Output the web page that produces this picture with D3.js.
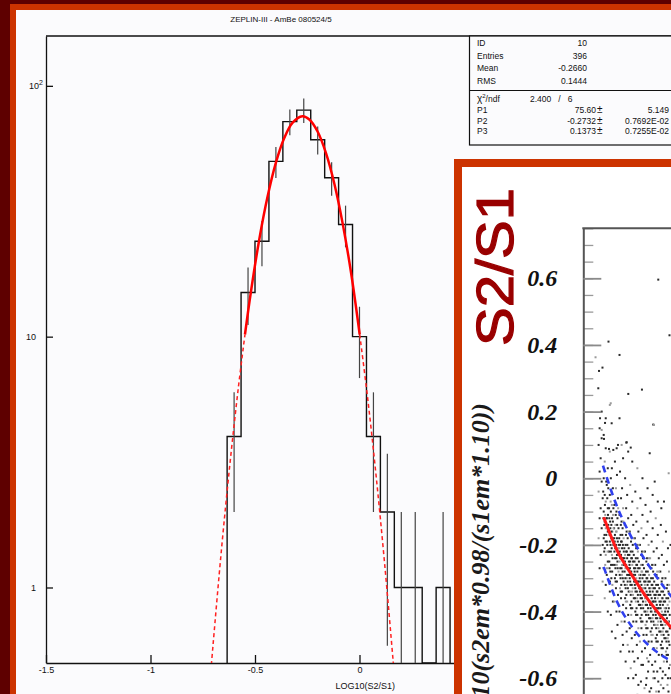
<!DOCTYPE html>
<html>
<head>
<meta charset="utf-8">
<script src="https://cdn.jsdelivr.net/npm/d3@7"></script>
<style>
  body { margin: 0; background: #5e0000; }
  svg { display: block; }
</style>
</head>
<body>
<svg id="chart" width="671" height="694"></svg>
<script>
// ---- histogram: LOG10(S2/S1) ----
const binCenters = [-0.6, -0.5333, -0.4667, -0.4, -0.3333, -0.2667, -0.2, -0.1333, -0.0667, 0, 0.0667, 0.1333, 0.2, 0.2667, 0.3333, 0.4];
const binCounts = [4, 15, 24, 50, 72, 80, 61, 43, 28, 10, 4, 2, 1, 1, 0, 1];
const binWidth = 0.0667;

// fitted gaussian
const fitX = [-0.72, -0.70, -0.66, -0.62, -0.58, -0.548, -0.52, -0.48, -0.44, -0.40, -0.36, -0.32, -0.2732, -0.24, -0.20, -0.16, -0.12, -0.08, -0.04, 0.001, 0.04, 0.08, 0.12, 0.16, 0.18];
const fitY = [0.38, 0.60, 1.43, 3.11, 6.23, 10.2, 15.0, 24.3, 36.1, 49.4, 61.9, 71.3, 75.6, 73.4, 65.6, 53.8, 40.6, 28.1, 17.9, 10.2, 5.60, 2.76, 1.25, 0.52, 0.33];
const fitRange = [-0.548, 0.001];

const xMajor = [-1.5, -1, -0.5, 0, 0.5];
const xMajorLabels = ["-1.5", "-1", "-0.5", "0", "0.5"];
const xMinor = d3.range(-15, 16).map(d => d / 10);
const yMajor = [1, 10, 100];
const yMajorLabels = ["1", "10", "10"];
const yMinor = [0.5, 0.6, 0.7, 0.8, 0.9, 2, 3, 4, 5, 6, 7, 8, 9, 20, 30, 40, 50, 60, 70, 80, 90];

const statRows1 = [["ID", "10"], ["Entries", "396"], ["Mean", "-0.2660"], ["RMS", "0.1444"]];
const statRows2 = [["P1", "75.60", "5.149"], ["P2", "-0.2732", "0.7692E-02"], ["P3", "0.1373", "0.7255E-02"]];

// ---- S2/S1 band plot ----
const bandTicks = [0.6, 0.4, 0.2, 0, -0.2, -0.4, -0.6];
const bandTickLabels = ["0.6", "0.4", "0.2", "0", "-0.2", "-0.4", "-0.6"];
const bandMinor = d3.range(-15, 16).map(d => d / 20);
const meanLine = [[2.0, -0.117], [3.24, -0.212], [4.87, -0.296], [6.51, -0.371], [8.53, -0.445], [9.2, -0.465]];
const upperLine = [[1.93, 0.038], [3.08, -0.067], [4.55, -0.167], [6.51, -0.266], [8.53, -0.351], [9.2, -0.375]];
const lowerLine = [[2.0, -0.266], [3.24, -0.366], [4.87, -0.45], [6.51, -0.504], [8.14, -0.54], [9.2, -0.556]];
const bandPoints = [
  [7.35,0.596],[8.45,0.429],[2.47,0.41],[3.55,0.37],[1.2,0.363],[1.88,0.332],[1.54,0.322],[5.75,0.266],[4.41,0.253],[2.69,0.225],
  [6.86,0.161],[3.55,0.18],[2.78,0.165],[2.13,0.166],[1.8,0.145],[2.03,0.118],[2.52,0.088],[2.94,0.085],[3.27,0.09],[3.76,0.1],
  [4.25,0.108],[4.65,0.092],[1.47,0.27],[1.64,0.18],[6.93,0.16],[4.22,0.107],[7.91,-0.07],[7.0,-0.01],[6.51,0.075],[8.37,0.015],
  [1.5,0.10],[1.7,0.06],[1.6,0.02],[1.8,-0.01],[1.5,-0.04],[1.9,-0.06],[1.7,-0.09],[1.6,-0.12],[1.8,-0.15],[1.5,-0.18],
  [1.9,-0.2],[1.7,-0.23],[1.6,-0.27],[1.8,0.12],[1.9,-0.31],[1.6,0.15],[1.8,0.2],
  [2.0,0.13],[2.2,0.09],[2.1,0.05],[2.4,0.03],[2.0,0.0],[2.3,-0.02],[2.1,-0.05],[2.2,-0.07],[2.4,-0.09],[2.0,-0.1],
  [2.3,-0.12],[2.1,-0.13],[2.2,-0.15],[2.4,-0.16],[2.0,-0.18],[2.3,-0.19],[2.1,-0.21],[2.2,-0.23],[2.4,-0.25],[2.0,-0.27],
  [2.3,-0.29],[2.2,-0.32],[2.1,-0.36],[2.4,-0.4],[2.2,0.18],[2.35,-0.06],[2.05,-0.14],
  [2.6,0.08],[2.8,0.03],[2.7,0.0],[2.9,-0.03],[2.6,-0.05],[2.8,-0.08],[2.7,-0.1],[2.55,-0.12],[2.9,-0.13],[2.65,-0.15],
  [2.85,-0.16],[2.75,-0.18],[2.6,-0.19],[2.95,-0.2],[2.7,-0.22],[2.8,-0.23],[2.55,-0.25],[2.9,-0.26],[2.65,-0.28],[2.75,-0.3],
  [2.85,-0.32],[2.6,-0.34],[2.9,-0.37],[2.7,-0.41],[2.8,-0.46],[2.6,0.22],[2.95,-0.09],[2.75,-0.14],
  [3.1,0.05],[3.3,0.01],[3.2,-0.03],[3.4,-0.06],[3.05,-0.08],[3.25,-0.1],[3.35,-0.12],[3.15,-0.14],[3.45,-0.15],[3.1,-0.17],
  [3.3,-0.18],[3.2,-0.2],[3.4,-0.21],[3.05,-0.22],[3.25,-0.24],[3.35,-0.25],[3.15,-0.27],[3.45,-0.28],[3.1,-0.3],[3.3,-0.31],
  [3.2,-0.33],[3.4,-0.35],[3.05,-0.37],[3.25,-0.4],[3.35,-0.44],[3.15,-0.48],[3.4,0.1],[3.2,-0.16],[3.3,-0.23],
  [3.6,0.02],[3.8,-0.03],[3.7,-0.06],[3.9,-0.09],[3.55,-0.11],[3.75,-0.13],[3.85,-0.15],[3.65,-0.17],[3.95,-0.18],[3.6,-0.2],
  [3.8,-0.21],[3.7,-0.23],[3.9,-0.24],[3.55,-0.25],[3.75,-0.27],[3.85,-0.28],[3.65,-0.3],[3.95,-0.31],[3.6,-0.33],[3.8,-0.34],
  [3.7,-0.36],[3.9,-0.38],[3.55,-0.4],[3.75,-0.43],[3.85,-0.47],[3.65,-0.52],[3.9,0.06],[3.7,-0.19],[3.8,-0.26],
  [4.1,0.0],[4.3,-0.05],[4.2,-0.09],[4.4,-0.12],[4.05,-0.14],[4.25,-0.16],[4.35,-0.18],[4.15,-0.2],[4.45,-0.21],[4.1,-0.23],
  [4.3,-0.24],[4.2,-0.26],[4.4,-0.27],[4.05,-0.28],[4.25,-0.3],[4.35,-0.31],[4.15,-0.33],[4.45,-0.34],[4.1,-0.36],[4.3,-0.37],
  [4.2,-0.39],[4.4,-0.41],[4.05,-0.43],[4.25,-0.46],[4.35,-0.5],[4.15,-0.55],[4.4,0.08],[4.2,-0.22],[4.3,-0.29],
  [4.6,-0.02],[4.8,-0.07],[4.7,-0.11],[4.9,-0.14],[4.55,-0.16],[4.75,-0.18],[4.85,-0.2],[4.65,-0.22],[4.95,-0.23],[4.6,-0.25],
  [4.8,-0.26],[4.7,-0.28],[4.9,-0.29],[4.55,-0.3],[4.75,-0.32],[4.85,-0.33],[4.65,-0.35],[4.95,-0.36],[4.6,-0.38],[4.8,-0.39],
  [4.7,-0.41],[4.9,-0.43],[4.55,-0.45],[4.75,-0.48],[4.85,-0.52],[4.65,-0.57],[4.8,0.05],[4.7,-0.24],[4.6,-0.31],
  [5.1,-0.04],[5.3,-0.09],[5.2,-0.13],[5.4,-0.16],[5.05,-0.18],[5.25,-0.2],[5.35,-0.22],[5.15,-0.24],[5.45,-0.25],[5.1,-0.27],
  [5.3,-0.28],[5.2,-0.3],[5.4,-0.31],[5.05,-0.32],[5.25,-0.34],[5.35,-0.35],[5.15,-0.37],[5.45,-0.38],[5.1,-0.4],[5.3,-0.41],
  [5.2,-0.43],[5.4,-0.45],[5.05,-0.47],[5.25,-0.5],[5.35,-0.54],[5.15,-0.59],[5.3,0.03],[5.2,-0.26],[5.1,-0.33],
  [5.6,-0.06],[5.8,-0.11],[5.7,-0.15],[5.9,-0.18],[5.55,-0.2],[5.75,-0.22],[5.85,-0.24],[5.65,-0.26],[5.95,-0.27],[5.6,-0.29],
  [5.8,-0.3],[5.7,-0.32],[5.9,-0.33],[5.55,-0.34],[5.75,-0.36],[5.85,-0.37],[5.65,-0.39],[5.95,-0.4],[5.6,-0.42],[5.8,-0.43],
  [5.7,-0.45],[5.9,-0.47],[5.55,-0.49],[5.75,-0.52],[5.85,-0.56],[5.65,-0.61],[5.8,0.0],[5.7,-0.28],[5.6,-0.35],
  [6.1,-0.08],[6.3,-0.13],[6.2,-0.17],[6.4,-0.2],[6.05,-0.22],[6.25,-0.24],[6.35,-0.26],[6.15,-0.28],[6.45,-0.29],[6.1,-0.31],
  [6.3,-0.32],[6.2,-0.34],[6.4,-0.35],[6.05,-0.36],[6.25,-0.38],[6.35,-0.39],[6.15,-0.41],[6.45,-0.42],[6.1,-0.44],[6.3,-0.45],
  [6.2,-0.47],[6.4,-0.49],[6.05,-0.51],[6.25,-0.54],[6.35,-0.58],[6.15,-0.62],[6.3,-0.03],[6.2,-0.3],[6.1,-0.37],
  [6.6,-0.1],[6.8,-0.15],[6.7,-0.19],[6.9,-0.22],[6.55,-0.24],[6.75,-0.26],[6.85,-0.28],[6.65,-0.3],[6.95,-0.31],[6.6,-0.33],
  [6.8,-0.34],[6.7,-0.36],[6.9,-0.37],[6.55,-0.38],[6.75,-0.4],[6.85,-0.41],[6.65,-0.43],[6.95,-0.44],[6.6,-0.46],[6.8,-0.47],
  [6.7,-0.49],[6.9,-0.51],[6.55,-0.53],[6.75,-0.56],[6.85,-0.6],[6.65,-0.63],[6.8,-0.05],[6.7,-0.32],[6.6,-0.39],
  [7.1,-0.12],[7.3,-0.17],[7.2,-0.21],[7.4,-0.24],[7.05,-0.26],[7.25,-0.28],[7.35,-0.3],[7.15,-0.32],[7.45,-0.33],[7.1,-0.35],
  [7.3,-0.36],[7.2,-0.38],[7.4,-0.39],[7.05,-0.4],[7.25,-0.42],[7.35,-0.43],[7.15,-0.45],[7.45,-0.46],[7.1,-0.48],[7.3,-0.49],
  [7.2,-0.51],[7.4,-0.53],[7.05,-0.55],[7.25,-0.58],[7.35,-0.61],[7.15,-0.64],[7.3,-0.07],[7.2,-0.34],[7.1,-0.41],
  [7.6,-0.14],[7.8,-0.19],[7.7,-0.23],[7.9,-0.26],[7.55,-0.28],[7.75,-0.3],[7.85,-0.32],[7.65,-0.34],[7.95,-0.35],[7.6,-0.37],
  [7.8,-0.38],[7.7,-0.4],[7.9,-0.41],[7.55,-0.42],[7.75,-0.44],[7.85,-0.45],[7.65,-0.47],[7.95,-0.48],[7.6,-0.5],[7.8,-0.51],
  [7.7,-0.53],[7.9,-0.55],[7.55,-0.57],[7.75,-0.6],[7.85,-0.63],[7.65,-0.09],[7.7,-0.36],[7.6,-0.43],
  [8.1,-0.16],[8.3,-0.21],[8.2,-0.25],[8.4,-0.28],[8.05,-0.3],[8.25,-0.32],[8.35,-0.34],[8.15,-0.36],[8.45,-0.37],[8.1,-0.39],
  [8.3,-0.4],[8.2,-0.42],[8.4,-0.43],[8.05,-0.44],[8.25,-0.46],[8.35,-0.47],[8.15,-0.49],[8.45,-0.5],[8.1,-0.52],[8.3,-0.53],
  [8.2,-0.55],[8.4,-0.57],[8.05,-0.59],[8.25,-0.62],[8.35,-0.64],[8.55,-0.2],[8.5,-0.45],[8.55,-0.6],
  [2.15,-0.11],[2.25,-0.17],[2.45,-0.14],[2.05,-0.22],[2.35,-0.2],[2.15,-0.26],[2.45,-0.03],[1.95,-0.04],[2.25,-0.01],
  [2.58,-0.17],[2.68,-0.07],[2.78,-0.21],[2.88,-0.18],[2.52,-0.22],[2.72,-0.26],[2.92,-0.11],[2.62,-0.31],[2.82,-0.12],
  [3.08,-0.19],[3.18,-0.11],[3.28,-0.26],[3.38,-0.19],[3.48,-0.23],[3.02,-0.15],[3.22,-0.29],[3.42,-0.09],[3.12,-0.24],[3.32,-0.14],
  [3.58,-0.22],[3.68,-0.14],[3.78,-0.29],[3.88,-0.2],[3.98,-0.26],[3.52,-0.18],[3.72,-0.32],[3.92,-0.13],[3.62,-0.27],[3.82,-0.17],
  [4.08,-0.25],[4.18,-0.17],[4.28,-0.32],[4.38,-0.23],[4.48,-0.29],[4.02,-0.21],[4.22,-0.35],[4.42,-0.16],[4.12,-0.3],[4.32,-0.2],
  [4.58,-0.27],[4.68,-0.19],[4.78,-0.34],[4.88,-0.25],[4.98,-0.31],[4.52,-0.23],[4.72,-0.37],[4.92,-0.18],[4.62,-0.32],[4.82,-0.22],
  [5.08,-0.29],[5.18,-0.21],[5.28,-0.36],[5.38,-0.27],[5.48,-0.33],[5.02,-0.25],[5.22,-0.39],[5.42,-0.2],[5.12,-0.34],[5.32,-0.24],
  [5.58,-0.31],[5.68,-0.23],[5.78,-0.38],[5.88,-0.29],[5.98,-0.35],[5.52,-0.27],[5.72,-0.41],[5.92,-0.22],[5.62,-0.36],[5.82,-0.26],
  [6.08,-0.33],[6.18,-0.25],[6.28,-0.4],[6.38,-0.31],[6.48,-0.37],[6.02,-0.29],[6.22,-0.43],[6.42,-0.24],[6.12,-0.38],[6.32,-0.28],
  [6.58,-0.35],[6.68,-0.27],[6.78,-0.42],[6.88,-0.33],[6.98,-0.39],[6.52,-0.31],[6.72,-0.45],[6.92,-0.26],[6.62,-0.4],[6.82,-0.3],
  [7.08,-0.37],[7.18,-0.29],[7.28,-0.44],[7.38,-0.35],[7.48,-0.41],[7.02,-0.33],[7.22,-0.47],[7.42,-0.28],[7.12,-0.42],[7.32,-0.32],
  [7.58,-0.39],[7.68,-0.31],[7.78,-0.46],[7.88,-0.37],[7.98,-0.43],[7.52,-0.35],[7.72,-0.49],[7.92,-0.3],[7.62,-0.44],[7.82,-0.34],
  [8.08,-0.41],[8.18,-0.33],[8.28,-0.48],[8.38,-0.39],[8.48,-0.45],[8.02,-0.37],[8.22,-0.51],[8.42,-0.32],[8.12,-0.46],[8.32,-0.36],
  [6.2,-0.6],[6.9,-0.58],[7.6,-0.62],[8.3,-0.6],[5.4,-0.62],[4.9,-0.6],[7.2,-0.66],[8.0,-0.66],[6.5,-0.64],[5.9,-0.66],
  [2.12,-0.08],[2.28,-0.12],[2.38,-0.22],[2.08,-0.17],[2.42,-0.11],[1.98,-0.12],[2.18,-0.19],[2.32,-0.27],
  [2.63,-0.13],[2.77,-0.16],[2.87,-0.24],[2.53,-0.09],[2.97,-0.15],[2.67,-0.2],[2.83,-0.28],[2.57,-0.27],
  [3.13,-0.21],[3.27,-0.16],[3.37,-0.27],[3.03,-0.18],[3.47,-0.2],[3.17,-0.31],[3.33,-0.21],[3.07,-0.26],
  [3.63,-0.24],[3.77,-0.19],[3.87,-0.3],[3.53,-0.21],[3.97,-0.22],[3.67,-0.34],[3.83,-0.24],[3.57,-0.29],
  [4.13,-0.27],[4.27,-0.22],[4.37,-0.33],[4.03,-0.24],[4.47,-0.25],[4.17,-0.37],[4.33,-0.27],[4.07,-0.32],
  [4.63,-0.29],[4.77,-0.24],[4.87,-0.35],[4.53,-0.26],[4.97,-0.27],[4.67,-0.39],[4.83,-0.29],[4.57,-0.34],
  [5.13,-0.31],[5.27,-0.26],[5.37,-0.37],[5.03,-0.28],[5.47,-0.29],[5.17,-0.41],[5.33,-0.31],[5.07,-0.36],
  [5.63,-0.33],[5.77,-0.28],[5.87,-0.39],[5.53,-0.3],[5.97,-0.31],[5.67,-0.43],[5.83,-0.33],[5.57,-0.38],
  [6.13,-0.35],[6.27,-0.3],[6.37,-0.41],[6.03,-0.32],[6.47,-0.33],[6.17,-0.45],[6.33,-0.35],[6.07,-0.4],
  [6.63,-0.37],[6.77,-0.32],[6.87,-0.43],[6.53,-0.34],[6.97,-0.35],[6.67,-0.47],[6.83,-0.37],[6.57,-0.42],
  [7.13,-0.39],[7.27,-0.34],[7.37,-0.45],[7.03,-0.36],[7.47,-0.37],[7.17,-0.49],[7.33,-0.39],[7.07,-0.44],
  [7.63,-0.41],[7.77,-0.36],[7.87,-0.47],[7.53,-0.38],[7.97,-0.39],[7.67,-0.51],[7.83,-0.41],[7.57,-0.46],
  [8.13,-0.43],[8.27,-0.38],[8.37,-0.49],[8.03,-0.4],[8.47,-0.41],[8.17,-0.53],[8.33,-0.43],[8.07,-0.48],
  [6.4,-0.55],[7.0,-0.6],[7.8,-0.58],[8.5,-0.56],[5.7,-0.56],[5.0,-0.55],[4.5,-0.52],[3.9,-0.5],[8.4,-0.66],[7.4,-0.64],
  [6.8,-0.66],[5.3,-0.65],[4.4,-0.6],[6.0,-0.63]
];

const svg = d3.select("#chart");
const sans = "'Liberation Sans', Arial, sans-serif";
const serif = "'Liberation Serif', 'Times New Roman', serif";

// outer frame: dark red, orange, light page
svg.append("rect").attr("width", 671).attr("height", 694).attr("fill", "#5e0000");
svg.append("rect").attr("x", 10).attr("y", 4).attr("width", 661).attr("height", 690).attr("fill", "#cc3300");
svg.append("rect").attr("x", 16).attr("y", 10).attr("width", 655).attr("height", 684).attr("fill", "#fbfbfd");

// ---------- histogram ----------
const x = d3.scaleLinear().domain([-1.5, 1.5]).range([46, 673]);
const y = d3.scaleLog().domain([0.5, 158]).range([663, 36]);
const yc = v => y(Math.max(v, 0.5));

svg.append("clipPath").attr("id", "histClip")
  .append("rect").attr("x", 46).attr("y", 36).attr("width", 627).attr("height", 627);

svg.append("text")
  .attr("x", 281).attr("y", 22)
  .attr("text-anchor", "middle")
  .style("font-family", sans).style("font-size", "8px").attr("fill", "#111")
  .text("ZEPLIN-III - AmBe 080524/5");

// top frame line
svg.append("line").attr("x1", 46).attr("x2", 671).attr("y1", 36).attr("y2", 36)
  .attr("stroke", "#111").attr("stroke-width", 1.3);

const gx = svg.append("g").attr("transform", "translate(0,663)");
gx.call(d3.axisBottom(x).tickValues(xMinor).tickSizeInner(-4).tickSizeOuter(0).tickFormat(""));
gx.call(d3.axisBottom(x).tickValues(xMajor).tickSizeInner(-8).tickSizeOuter(0).tickPadding(4)
  .tickFormat((d, i) => xMajorLabels[i]));
gx.selectAll("path,line").attr("stroke", "#111").attr("stroke-width", 1.3);
gx.selectAll("text").style("font-family", sans).style("font-size", "9px").attr("fill", "#111");

const gy = svg.append("g").attr("transform", "translate(46,0)");
gy.call(d3.axisLeft(y).tickValues(yMinor).tickSizeInner(-4).tickSizeOuter(0).tickFormat(""));
gy.call(d3.axisLeft(y).tickValues(yMajor).tickSizeInner(-7).tickSizeOuter(0).tickPadding(10)
  .tickFormat((d, i) => yMajorLabels[i]));
gy.selectAll("path,line").attr("stroke", "#111").attr("stroke-width", 1.3);
gy.selectAll("text").style("font-family", sans).style("font-size", "9px").attr("fill", "#111");
gy.selectAll(".tick").filter(d => d === 100).select("text").attr("x", -3)
  .append("tspan").attr("dy", "-4").style("font-size", "7px").text("2");

svg.append("text").attr("x", 395).attr("y", 689).attr("text-anchor", "end")
  .style("font-family", sans).style("font-size", "9px").attr("fill", "#111")
  .text("LOG10(S2/S1)");

const hist = svg.append("g").attr("clip-path", "url(#histClip)");

// step outline
const stepPts = [];
binCenters.forEach((c, i) => {
  const lo = c - binWidth / 2, hi = c + binWidth / 2;
  if (i === 0) stepPts.push([lo, 0]);
  stepPts.push([lo, binCounts[i]], [hi, binCounts[i]]);
});
stepPts.push([binCenters[binCenters.length - 1] + binWidth / 2, 0]);

hist.append("path")
  .datum(stepPts)
  .attr("d", d3.line().x(d => x(d[0])).y(d => yc(d[1])))
  .attr("fill", "none").attr("stroke", "#111").attr("stroke-width", 1.4);

// sqrt(N) error bars
hist.selectAll(".err")
  .data(binCenters.map((c, i) => [c, binCounts[i]]).filter(d => d[1] > 0))
  .enter().append("line")
  .attr("class", "err")
  .attr("x1", d => x(d[0])).attr("x2", d => x(d[0]))
  .attr("y1", d => yc(d[1] - Math.sqrt(d[1])))
  .attr("y2", d => yc(d[1] + Math.sqrt(d[1])))
  .attr("stroke", "#444").attr("stroke-width", 1.2);

// fit curve: solid inside fit range, dashed outside
const fitPts = fitX.map((v, i) => [v, fitY[i]]);
const fitLine = d3.line().x(d => x(d[0])).y(d => y(d[1])).curve(d3.curveCatmullRom);
const leftPart = fitPts.filter(d => d[0] <= fitRange[0]);
const midPart = fitPts.filter(d => d[0] >= fitRange[0] && d[0] <= fitRange[1]);
const rightPart = fitPts.filter(d => d[0] >= fitRange[1]);
[leftPart, rightPart].forEach(part => {
  hist.append("path").datum(part).attr("d", fitLine)
    .attr("fill", "none").attr("stroke", "#ff2020").attr("stroke-width", 1.5)
    .attr("stroke-dasharray", "4,3");
});
hist.append("path").datum(midPart).attr("d", fitLine)
  .attr("fill", "none").attr("stroke", "#ff0000").attr("stroke-width", 2.5);

// statistics box
const stats = svg.append("g").style("font-family", sans).style("font-size", "8.5px").attr("fill", "#111");
stats.append("rect").attr("x", 469.5).attr("y", 36).attr("width", 220).attr("height", 109)
  .attr("fill", "#fbfbfd").attr("stroke", "#111").attr("stroke-width", 1.2);
stats.append("line").attr("x1", 469.5).attr("x2", 671).attr("y1", 90.5).attr("y2", 90.5)
  .attr("stroke", "#111").attr("stroke-width", 1.2);
const row1Y = [46, 58.5, 71, 84];
statRows1.forEach((r, i) => {
  stats.append("text").attr("x", 477).attr("y", row1Y[i]).text(r[0]);
  stats.append("text").attr("x", 587).attr("y", row1Y[i]).attr("text-anchor", "end").text(r[1]);
});
const chi = stats.append("text").attr("x", 477).attr("y", 101.5);
chi.append("tspan").style("font-size", "10px").text("\u03c7");
chi.append("tspan").attr("dy", -4).style("font-size", "6px").text("2");
chi.append("tspan").attr("dy", 4).text("/ndf");
stats.append("text").attr("x", 530).attr("y", 101.5).attr("xml:space", "preserve").text("2.400   /   6");
const row2Y = [113, 123.5, 134];
statRows2.forEach((r, i) => {
  stats.append("text").attr("x", 477).attr("y", row2Y[i]).text(r[0]);
  stats.append("text").attr("x", 596).attr("y", row2Y[i]).attr("text-anchor", "end").text(r[1]);
  stats.append("text").attr("x", 597).attr("y", row2Y[i]).style("font-size", "10px").text("\u00b1");
  stats.append("text").attr("x", 669).attr("y", row2Y[i]).attr("text-anchor", "end").text(r[2]);
});

// ---------- S2/S1 band panel ----------
svg.append("rect").attr("x", 454).attr("y", 159).attr("width", 220).attr("height", 540).attr("fill", "#cc3300");
svg.append("rect").attr("x", 462).attr("y", 167).attr("width", 212).attr("height", 530).attr("fill", "#ffffff");

svg.append("text")
  .attr("transform", "translate(513,267) rotate(-90)")
  .attr("text-anchor", "middle")
  .style("font-family", sans).style("font-size", "52px").attr("fill", "#990000")
  .attr("stroke", "#990000").attr("stroke-width", 1.2)
  .attr("textLength", 158).attr("lengthAdjust", "spacingAndGlyphs")
  .text("S2/S1");

svg.append("text")
  .attr("transform", "translate(489,403) rotate(-90)")
  .attr("text-anchor", "end")
  .style("font-family", serif).style("font-size", "26px").style("font-style", "italic")
  .style("font-weight", "bold").attr("fill", "#1a1a1a")
  .text("log10(s2em*0.98/(s1em*1.10))");

const bx = d3.scaleLinear().domain([0, 50]).range([583.3, 1093.3]);
const by = d3.scaleLinear().domain([-0.75, 0.75]).range([728.2, 228.3]);

svg.append("clipPath").attr("id", "bandClip")
  .append("rect").attr("x", 584).attr("y", 229).attr("width", 100).attr("height", 480);

const band = svg.append("g").attr("clip-path", "url(#bandClip)");
band.selectAll(".pt")
  .data(bandPoints)
  .enter().append("rect")
  .attr("class", "pt")
  .attr("x", d => bx(d[0]) - 1).attr("y", d => by(d[1]) - 1)
  .attr("width", 2).attr("height", 2)
  .attr("fill", (d, i) => (i % 5 === 4 ? "#9a9a9a" : "#2a2a2a"));

const bandLine = d3.line().x(d => bx(d[0])).y(d => by(d[1])).curve(d3.curveMonotoneX);
band.append("path").datum(upperLine).attr("d", bandLine)
  .attr("fill", "none").attr("stroke", "#3040ee").attr("stroke-width", 2.6).attr("stroke-dasharray", "7,5");
band.append("path").datum(lowerLine).attr("d", bandLine)
  .attr("fill", "none").attr("stroke", "#3040ee").attr("stroke-width", 2.6).attr("stroke-dasharray", "7,5");
band.append("path").datum(meanLine).attr("d", bandLine)
  .attr("fill", "none").attr("stroke", "#ff1a1a").attr("stroke-width", 3);

// band axes
const ga = svg.append("g").attr("transform", "translate(583.3,0)");
ga.call(d3.axisLeft(by).tickValues(bandMinor).tickSizeInner(-10).tickSizeOuter(0).tickFormat(""));
ga.selectAll(".tick line").attr("stroke", "#9a9a9a").attr("stroke-width", 1.3);
const gb = svg.append("g").attr("transform", "translate(583.3,0)");
gb.call(d3.axisLeft(by).tickValues(bandTicks).tickSizeInner(-18).tickSizeOuter(0).tickPadding(26)
  .tickFormat((d, i) => bandTickLabels[i]));
gb.selectAll(".tick line").attr("stroke", "#8a8a8a").attr("stroke-width", 1.8);
gb.selectAll("path").attr("stroke", "#555").attr("stroke-width", 2);
ga.select("path").remove();
gb.selectAll("text")
  .style("font-family", serif).style("font-size", "24px").style("font-style", "italic")
  .style("font-weight", "bold").attr("fill", "#111");

svg.append("line").attr("x1", 582.3).attr("x2", 671).attr("y1", 228.3).attr("y2", 228.3)
  .attr("stroke", "#555").attr("stroke-width", 2);
</script>
</body>
</html>
